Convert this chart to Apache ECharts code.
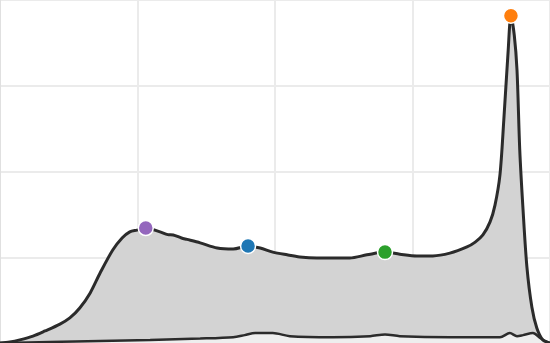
<!DOCTYPE html>
<html><head><meta charset="utf-8">
<script src="https://cdn.jsdelivr.net/npm/echarts@6/dist/echarts.min.js"></script>
<style>html,body{margin:0;padding:0;background:#fff;}#c{width:550px;height:343px;}</style>
</head><body><div id="c"></div>
<script>
// Main distribution curve: [x, y]
const mainX = [0,1.8,3.6,6,8.2,10.9,12.7,14.5,16.4,18.2,20.5,22.2,23.6,24.9,26.5,29.1,30.5,31.5,33,34,36.4,39.5,42.4,45.1,47.3,49.6,52.2,54.5,57.6,60.5,63.6,66.7,70,72.7,75.8,78.7,81.8,84.9,86.4,87.8,89.1,90,90.9,91.6,92.4,92.9,93.5,94,94.5,95.1,95.8,96.7,97.6,98.7,100];
const mainY = [0,0.3,0.9,2,3.5,5.5,7.3,10.2,14.6,20.4,27.1,30.6,32.4,32.9,33.5,32.4,31.6,31.5,30.6,30.2,29.2,27.7,27.4,28.3,27.7,26.5,25.7,25.1,24.8,24.8,24.8,25.7,26.5,25.9,25.4,25.4,26.2,28,29.4,31.5,35.3,40.2,49,65,85.4,95.4,89.8,79.6,56.3,38.8,22.2,10.5,4.4,0.9,0];
// Secondary (small) curve
const subX = [0,9.1,18.2,27.3,36.4,42.4,44.5,46.4,49.6,52.7,60.5,67.3,70,72.7,81.8,90.9,92.7,94,95.1,96.9,98.2,99.1,100];
const subY = [0,0.3,0.6,0.9,1.3,1.7,2.3,2.9,2.9,2,1.7,2,2.5,2,1.7,1.7,2.9,2,2.3,2.9,1.5,0.6,0];
// Highlighted points
const ptX = [26.5,45.1,70,92.9];
const ptY = [33.5,28.3,26.5,95.4];
const ptColors = ['#9467bd','#1f77b4','#2ca02c','#ff7f0e'];

const chart = echarts.init(document.getElementById('c'));
chart.setOption({
  animation:false,
  grid:{left:0,right:0,top:0,bottom:0},
  xAxis:[{type:'value',min:0,max:100,interval:25,
    axisLabel:{show:false},axisTick:{show:false},
    axisLine:{show:true,onZero:false,lineStyle:{color:'#3a3a3a',width:2}},
    splitLine:{show:true,lineStyle:{color:'#ebebeb',width:2}}},
   {type:'value',position:'top',min:0,max:100,axisLabel:{show:false},axisTick:{show:false},
    axisLine:{show:true,lineStyle:{color:'#e4effa',width:2}},splitLine:{show:false}}],
  yAxis:{type:'value',min:0,max:100,interval:25,
    axisLabel:{show:false},axisTick:{show:false},
    axisLine:{show:true,lineStyle:{color:'#e0e0e0',width:2}},
    splitLine:{show:true,lineStyle:{color:'#ebebeb',width:2}}},
  series:[
    {type:'line',data:mainX.map((x,i)=>[x,mainY[i]]),smooth:0.3,symbol:'none',
     lineStyle:{color:'#2b2b2b',width:3},areaStyle:{color:'#d3d3d3',opacity:1}},
    {type:'line',data:subX.map((x,i)=>[x,subY[i]]),smooth:0.3,symbol:'none',
     lineStyle:{color:'#2b2b2b',width:2.5},areaStyle:{color:'#eeeeee',opacity:1}},
    {type:'scatter',data:ptX.map((x,i)=>({value:[x,ptY[i]],itemStyle:{color:ptColors[i]}})),
     symbolSize:15,itemStyle:{borderColor:'#fff',borderWidth:1.5,opacity:1},z:5}
  ]
});
</script></body></html>
